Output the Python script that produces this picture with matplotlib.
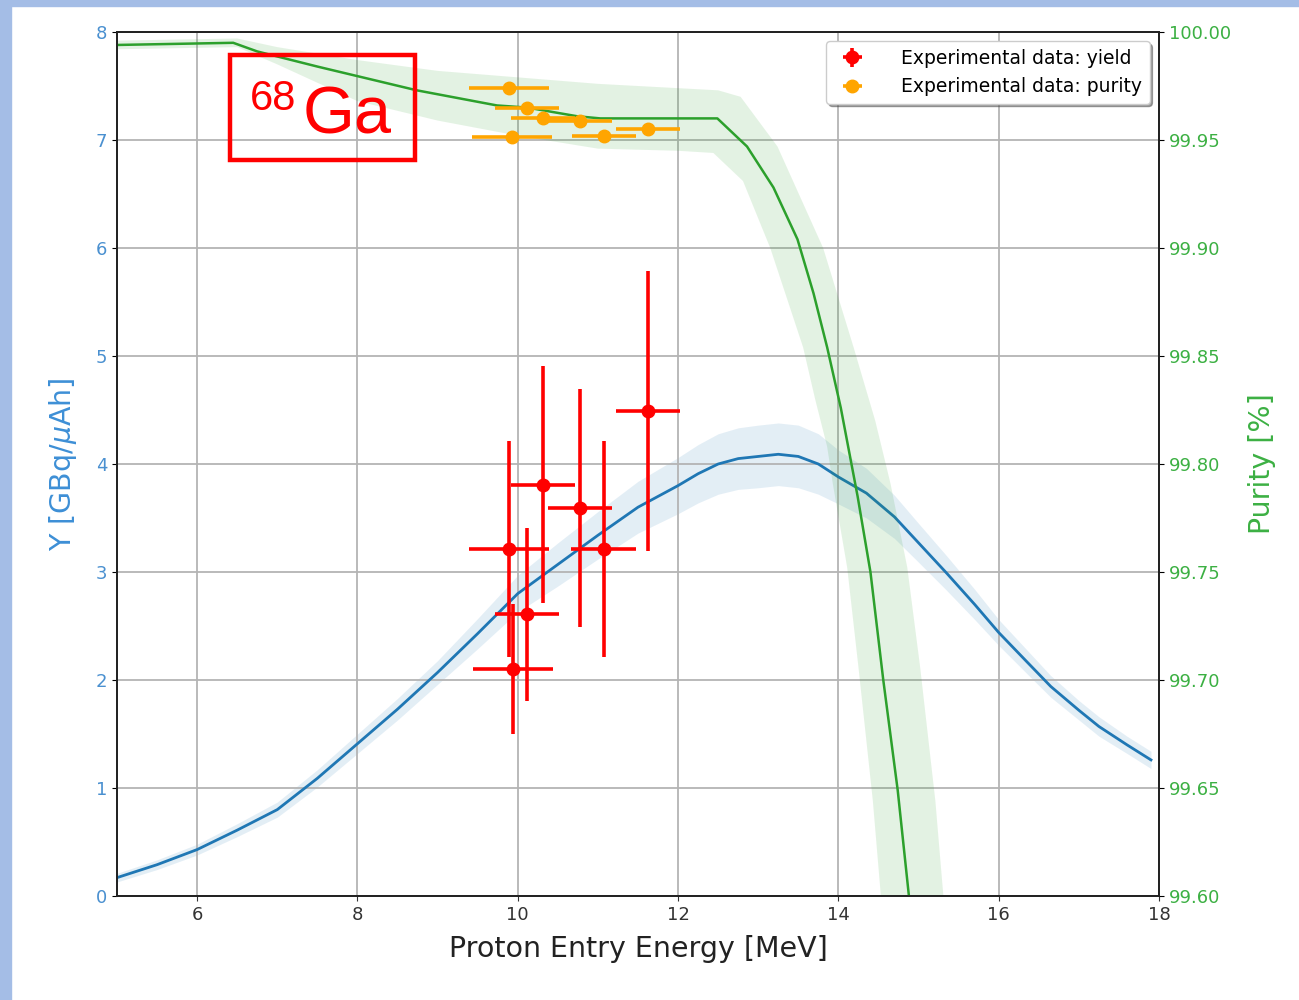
import numpy as np
import matplotlib
matplotlib.use('Agg')
import matplotlib.pyplot as plt
from matplotlib.patches import Rectangle

# simulated yield curve (left axis)
yield_E=[5.0,5.5,6.0,6.5,7.0,7.5,8.0,8.5,9.0,9.5,10.0,10.5,11.0,11.5,12.0,12.25,12.5,12.75,13.0,13.25,13.5,13.75,
	14.0,14.35,14.7,15.0,15.35,15.7,16.0,16.35,16.65,17.0,17.25,17.6,17.9]
yield_Y=[0.17,0.29,0.43,0.61,0.80,1.09,1.41,1.73,2.07,2.43,2.80,3.07,3.34,3.60,3.80,3.91,4.00,4.05,4.07,4.09,4.07,4.00,
	3.88,3.73,3.51,3.27,2.99,2.70,2.44,2.17,1.94,1.72,1.57,1.40,1.26]
yield_band=[0.04,0.045,0.05,0.06,0.07,0.08,0.09,0.10,0.11,0.14,0.17,0.20,0.22,0.24,0.26,0.27,0.28,0.285,0.29,0.29,0.29,0.28,
	0.25,0.23,0.20,0.18,0.16,0.14,0.12,0.11,0.10,0.09,0.09,0.08,0.08]

# simulated purity curve (right axis)
purity_E=[5.0,6.45,6.75,7.5,8.74,9.74,10.12,10.74,11.03,12.49,12.86,13.19,13.49,13.69,13.86,14.03,14.24,14.4,14.56,14.74,14.88,14.95]
purity_P=[99.994,99.995,99.991,99.984,99.973,99.966,99.965,99.961,99.960,99.960,99.947,99.928,99.904,99.879,99.854,99.826,
	99.785,99.750,99.700,99.649,99.600,99.570]
band_hi_E=[5.0,6.5,7.0,8.0,9.0,10.0,11.0,12.0,12.5,12.78,13.24,13.81,14.19,14.46,14.65,14.86,15.02,15.21,15.31,15.36]
band_hi_P=[99.996,99.997,99.993,99.987,99.982,99.979,99.976,99.974,99.973,99.970,99.947,99.900,99.854,99.820,99.791,99.752,
	99.706,99.644,99.600,99.570]
band_lo_E=[5.0,6.5,7.0,8.0,9.0,10.0,11.0,12.0,12.44,12.81,13.15,13.56,13.71,13.86,13.93,14.11,14.25,14.43,14.53,14.56]
band_lo_P=[99.992,99.993,99.985,99.968,99.959,99.952,99.946,99.945,99.944,99.931,99.900,99.854,99.830,99.808,99.791,99.752,
	99.706,99.644,99.600,99.570]

# experimental points
exp_y_E=[9.89,10.31,10.78,11.07,11.63,10.12,9.94]
exp_y_Eerr=[0.5,0.4,0.4,0.4,0.4,0.4,0.5]
exp_y_Y=[3.21,3.81,3.59,3.21,4.49,2.61,2.10]
exp_y_Yerr=[1.0,1.1,1.1,1.0,1.3,0.8,0.6]

exp_p_E=[9.89,10.12,10.31,10.78,9.93,11.08,11.63]
exp_p_Eerr=[0.5,0.4,0.4,0.4,0.5,0.4,0.4]
exp_p_P=[99.974,99.965,99.960,99.959,99.9516,99.952,99.955]

blue='#1f77b4'
green='#2ca02c'

fig=plt.figure(figsize=(12.99,10),dpi=100)
fig.patches.append(Rectangle((0,0),11/1299,1,transform=fig.transFigure,color='#a4bde6',zorder=0))
fig.patches.append(Rectangle((0,1-6/1000),1,6/1000,transform=fig.transFigure,color='#a4bde6',zorder=0))

ax=fig.add_axes([117/1299,0.104,(1159-117)/1299,0.864])
ax2=ax.twinx()

yY=np.array(yield_Y)
yb=np.array(yield_band)
ax.fill_between(yield_E,yY-yb,yY+yb,color=blue,alpha=0.12,lw=0)
ax.plot(yield_E,yield_Y,color=blue,lw=2)
h1=ax.errorbar(exp_y_E,exp_y_Y,xerr=exp_y_Eerr,yerr=exp_y_Yerr,fmt='o',color='red',ms=9,elinewidth=2.6,
	capsize=0,label='Experimental data: yield',zorder=5)

ax2.fill(band_hi_E+band_lo_E[::-1],band_hi_P+band_lo_P[::-1],color=green,alpha=0.13,lw=0)
ax2.plot(purity_E,purity_P,color=green,lw=1.8)
h2=ax2.errorbar(exp_p_E,exp_p_P,xerr=exp_p_Eerr,fmt='o',color='orange',ms=9,elinewidth=2.6,
	capsize=0,label='Experimental data: purity',zorder=5)

ax.set_xlim(5,18)
ax.set_ylim(0,8)
ax2.set_ylim(99.6,100.0)
ax.set_xticks([6,8,10,12,14,16,18])
ax.set_yticks(range(9))
ax2.set_yticks([99.60,99.65,99.70,99.75,99.80,99.85,99.90,99.95,100.00])
ax2.set_yticklabels(['%.2f'%v for v in [99.60,99.65,99.70,99.75,99.80,99.85,99.90,99.95,100.00]])

ax.grid(True,color='#b4b4b4',lw=1.3)
ax.tick_params(axis='x',labelsize=13,colors='#333333')
ax.tick_params(axis='y',labelsize=13,labelcolor='#4a90d0')
ax2.tick_params(axis='y',labelsize=13,labelcolor='#3cb043')
for a in (ax,ax2):
	for s in a.spines.values():
		s.set_color('#222222')
		s.set_linewidth(1.3)

ax.set_xlabel('Proton Entry Energy [MeV]',fontsize=20.5,color='#222222',labelpad=8)
ax.set_ylabel('Y [GBq/$\\mu$Ah]',fontsize=20.5,color='#3d8fd6',labelpad=12)
ax2.set_ylabel('Purity [%]',fontsize=20.5,color='#3cb043',labelpad=12)

leg=ax2.legend(handles=[h1,h2],loc='upper right',fontsize=13.5,shadow=True,framealpha=1,
	borderaxespad=0.5,handletextpad=1.6)

# isotope label box
fig.patches.append(Rectangle((230/1299,1-160/1000),185/1299,105/1000,transform=fig.transFigure,
	fill=False,edgecolor='red',lw=3.2,zorder=10))
fig.text(303/1299,1-133/1000,'Ga',color='red',fontsize=48,family='Liberation Sans',ha='left',va='baseline',zorder=11)
fig.text(250/1299,1-110/1000,'68',color='red',fontsize=30,family='Liberation Sans',ha='left',va='baseline',zorder=11)

fig.savefig('out.png',dpi=100)
